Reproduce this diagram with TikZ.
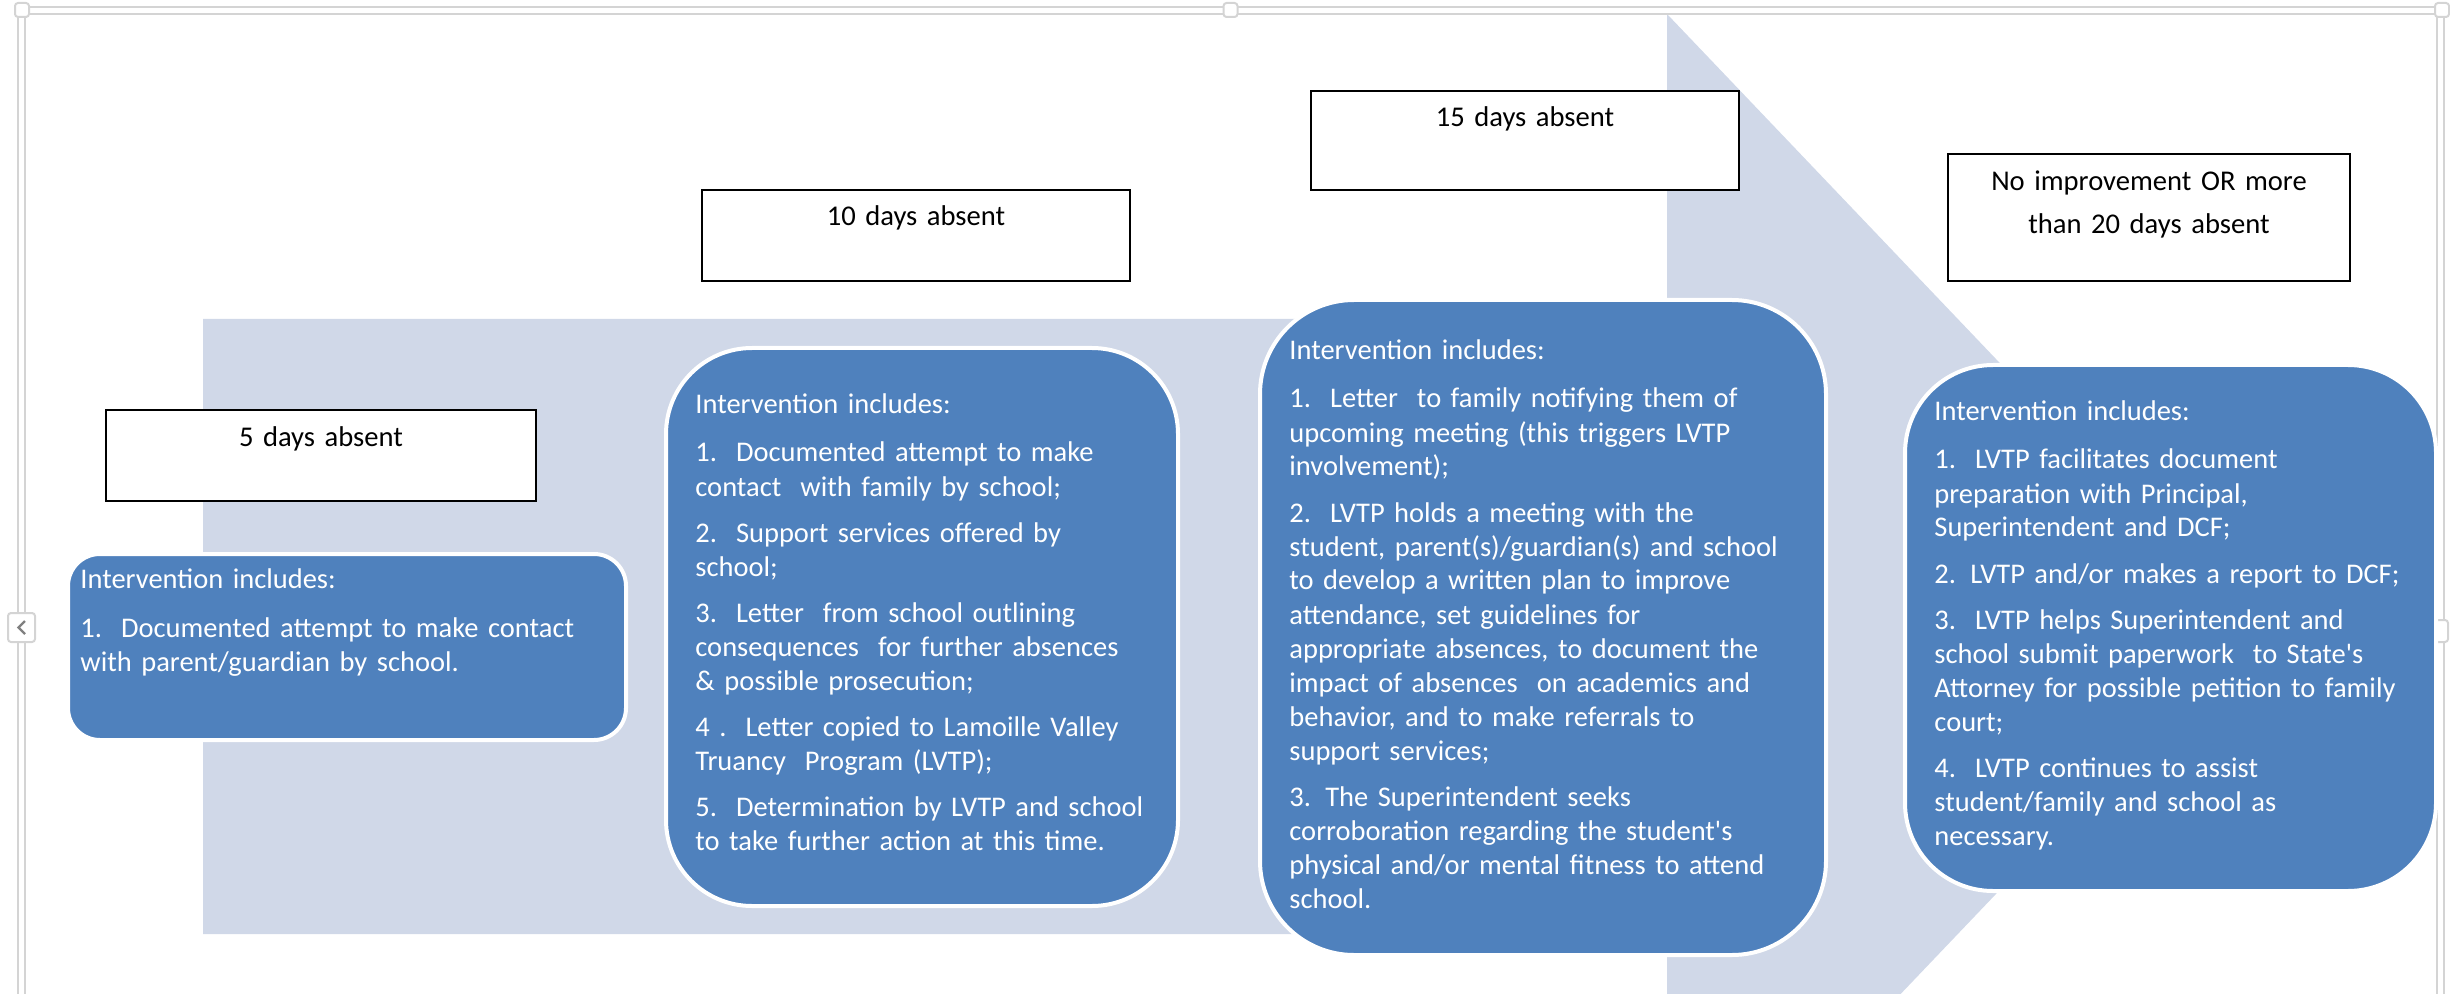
\documentclass[tikz,border=0pt]{standalone}
\usepackage{fontspec}
\setmainfont{Carlito}

\definecolor{arrowgray}{RGB}{208,216,232}
\definecolor{boxblue}{RGB}{79,129,189}
\definecolor{framegray}{RGB}{212,212,212}

\tikzset{
	labelbox/.style={draw=black, line width=1pt, fill=white},
	bluebox/.style={draw=white, line width=2pt, fill=boxblue},
	handle/.style={draw=framegray, line width=1pt, fill=white, rounded corners=1.5pt},
	labeltext/.style={anchor=base, inner sep=0pt, text width=200pt, align=center, font=\fontsize{14.3}{21.5}\selectfont},
	boxtext/.style={anchor=base west, inner sep=0pt, text width=300pt, align=left, text=white, font=\fontsize{14.25}{17}\selectfont}
}

\begin{document}
\begin{tikzpicture}[x=0.5pt, y=-0.5pt]

	%all coordinates are pixels of the original picture, y runs downwards

	\def\firstGap{7.5pt}
	\def\itemGap{6pt}
	\def\pictureWidth{2450}
	\def\pictureHeight{994}

	\useasboundingbox (0,0) rectangle (\pictureWidth,\pictureHeight);
	\clip (0,0) rectangle (\pictureWidth,\pictureHeight);

	%the big arrow behind everything
	\fill [arrowgray] (203,319) -- (1667,319) -- (1667,14) -- (2251,626.5) -- (1667,1239) -- (1667,934) -- (203,934) -- cycle;

	%canvas frame and its handles
	\draw [framegray, line width=1pt, double=white, double distance=2.5pt] (21.5,1100) -- (21.5,10.5) -- (2440.5,10.5) -- (2440.5,1100);
	\foreach \xpos in {22, 1230.5, 2442}
	{
		\draw [handle] (\xpos,10) +(-7,-7) rectangle +(7,7);
	}
	\draw [handle] (21.5,627.5) +(-13.5,-14.5) rectangle +(13.5,14.5);
	\draw [gray, line width=1.2pt] (25,621) -- (18.5,627.5) -- (25,634);
	\draw [handle] (2441.5,631) +(-6.5,-11) rectangle +(6.5,11);

	%day counts, white boxes
	\foreach \xa/\ya/\xb/\yb in {106/410/536/501, 702/190/1130/281, 1311/91/1739/190, 1948/154/2350/281}
	{
		\draw [labelbox] (\xa,\ya) rectangle (\xb,\yb);
	}
	\node [labeltext] (days5) at (321,446) {5 days absent};
	\node [labeltext] (days10) at (916,226) {10 days absent};
	\node [labeltext] (days15) at (1525,127) {15 days absent};
	\node [labeltext] (days20) at (2149,191) {No improvement OR more\\than 20 days absent};

	%interventions, blue boxes
	\draw [bluebox, rounded corners=16pt] (68,554) rectangle (626,740);
	\draw [bluebox, rounded corners=43pt] (666,348) rectangle (1178,906);
	\draw [bluebox, rounded corners=47pt] (1260,300) rectangle (1826,955);
	\draw [bluebox, rounded corners=44pt] (1905,365) rectangle (2436,891);

	\node [boxtext] (step5) at (80,588) {Intervention includes:\\[\firstGap]
		1.\ \ Documented attempt to make contact\\
		with parent/guardian by school.};

	\node [boxtext] (step10) at (695,413) {Intervention includes:\\[\firstGap]
		1.\ \ Documented attempt to make\\
		contact\ \ with family by school;\\[\itemGap]
		2.\ \ Support services offered by\\
		school;\\[\itemGap]
		3.\ \ Letter\ \ from school outlining\\
		consequences\ \ for further absences\\
		\& possible prosecution;\\[\itemGap]
		4 .\ \ Letter copied to Lamoille Valley\\
		Truancy\ \ Program (LVTP);\\[\itemGap]
		5.\ \ Determination by LVTP and school\\
		to take further action at this time.};

	\node [boxtext] (step15) at (1289,359) {Intervention includes:\\[\firstGap]
		1.\ \ Letter\ \ to family notifying them of\\
		upcoming meeting (this triggers LVTP\\
		involvement);\\[\itemGap]
		2.\ \ LVTP holds a meeting with the\\
		student, parent(s)/guardian(s) and school\\
		to develop a written plan to improve\\
		attendance, set guidelines for\\
		appropriate absences, to document the\\
		impact of absences\ \ on academics and\\
		behavior, and to make referrals to\\
		support services;\\[\itemGap]
		3. The Superintendent seeks\\
		corroboration regarding the student\textquotesingle s\\
		physical and/or mental fitness to attend\\
		school.};

	\node [boxtext] (step20) at (1934,420) {Intervention includes:\\[\firstGap]
		1.\ \ LVTP facilitates document\\
		preparation with Principal,\\
		Superintendent and DCF;\\[\itemGap]
		2. LVTP and/or makes a report to DCF;\\[\itemGap]
		3.\ \ LVTP helps Superintendent and\\
		school submit paperwork\ \ to State\textquotesingle s\\
		Attorney for possible petition to family\\
		court;\\[\itemGap]
		4.\ \ LVTP continues to assist\\
		student/family and school as\\
		necessary.};

\end{tikzpicture}
\end{document}
